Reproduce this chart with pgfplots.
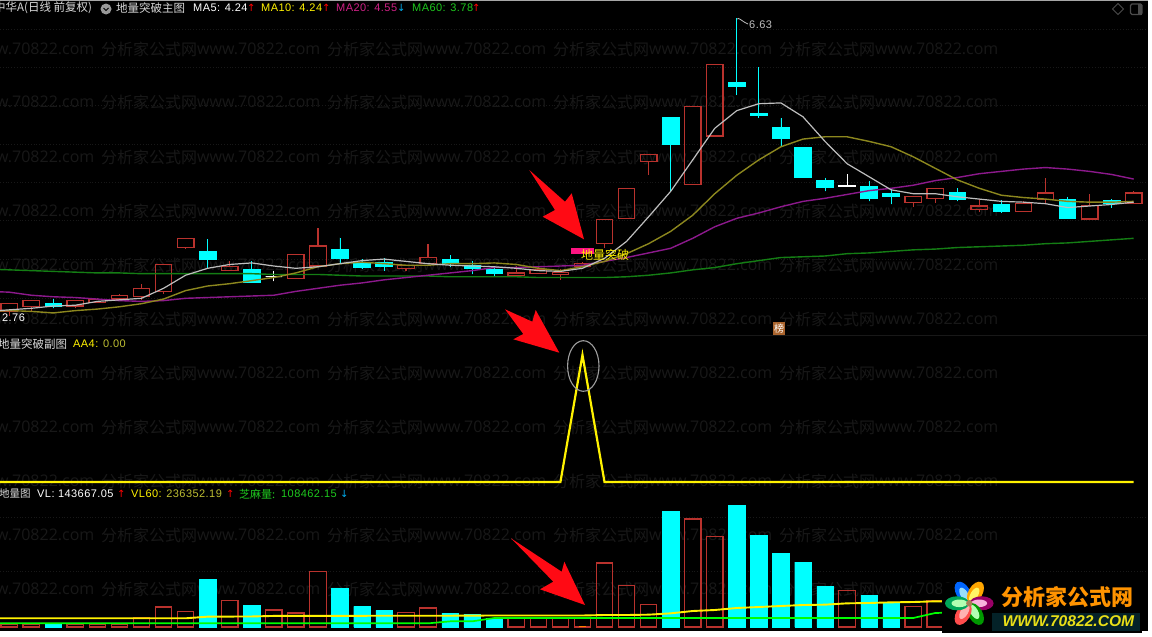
\documentclass[border=0pt]{standalone}
\usepackage{fontspec}
\usepackage{pgfplots}
\usepackage{pgfplotstable}
\pgfplotsset{compat=1.18}
\setmainfont{Liberation Sans}
\newfontfamily\cjk{Noto Sans CJK SC}
\newfontfamily\sym{DejaVu Sans}
\newfontfamily\wm{Open Sans}
\newfontfamily\hd[LetterSpace=4]{Liberation Sans}

\definecolor{candlered}{RGB}{185,50,45}
\definecolor{candlecyan}{RGB}{0,255,255}
\definecolor{ma5}{RGB}{190,190,190}
\definecolor{ma10}{RGB}{140,135,30}
\definecolor{ma20}{RGB}{140,25,140}
\definecolor{ma60}{RGB}{20,125,20}
\definecolor{faint}{RGB}{24,24,24}
\definecolor{hotpink}{RGB}{255,20,130}
\definecolor{arrowred}{RGB}{255,10,20}
\definecolor{dimyellow}{RGB}{190,190,50}
\definecolor{greentxt}{RGB}{30,200,30}
\definecolor{badge}{RGB}{170,100,45}
\definecolor{logobg}{RGB}{4,34,40}

% candle: position, low, body bottom, body top, high
\newcommand{\candle}[6]{%
  \pgfmathsetmacro\xl{#2-0.375}\pgfmathsetmacro\xr{#2+0.375}%
  \addplot[#1] coordinates {(#2,#3) (#2,#4)};
  \addplot[#1] coordinates {(#2,#5) (#2,#6)};
  \addplot[#1] coordinates {(\xl,#4) (\xr,#4) (\xr,#5) (\xl,#5) (\xl,#4)} --cycle;
}
\newcommand{\up}{\candle{candlered,line width=1.3pt}}
\newcommand{\dn}{\candle{candlecyan,fill=candlecyan,line width=0.8pt}}
\newcommand{\doji}{\candle{white,fill=white,line width=1pt}}

\pgfplotstableread{
i ma5 ma10 ma20 ma60
-1 2.82 2.82 3.08 3.37
0 2.84 2.83 3.07 3.36
1 2.86 2.82 3.03 3.35
2 2.89 2.80 3.01 3.34
3 2.90 2.83 3.00 3.33
4 2.95 2.85 2.98 3.32
5 2.97 2.88 2.96 3.32
6 2.99 2.92 2.95 3.31
7 3.12 2.98 2.96 3.31
8 3.29 3.09 2.99 3.31
9 3.38 3.15 3.00 3.31
10 3.43 3.18 3.01 3.31
11 3.45 3.22 3.02 3.31
12 3.41 3.26 3.03 3.30
13 3.38 3.32 3.08 3.30
14 3.40 3.40 3.12 3.30
15 3.44 3.44 3.16 3.29
16 3.48 3.46 3.19 3.28
17 3.50 3.44 3.23 3.28
18 3.47 3.42 3.26 3.28
19 3.44 3.42 3.29 3.28
20 3.42 3.44 3.32 3.27
21 3.41 3.44 3.35 3.27
22 3.40 3.45 3.39 3.27
23 3.38 3.43 3.39 3.27
24 3.35 3.38 3.40 3.26
25 3.34 3.35 3.41 3.26
26 3.38 3.40 3.42 3.26
27 3.51 3.47 3.47 3.26
28 3.73 3.57 3.52 3.27
29 4.05 3.70 3.58 3.29
30 4.38 3.86 3.64 3.32
31 4.79 4.07 3.77 3.36
32 5.20 4.35 3.92 3.39
33 5.43 4.59 4.03 3.44
34 5.52 4.79 4.10 3.48
35 5.53 4.96 4.18 3.52
36 5.35 5.06 4.25 3.53
37 5.03 5.09 4.29 3.54
38 4.74 5.09 4.34 3.57
39 4.57 5.03 4.39 3.58
40 4.40 4.96 4.42 3.60
41 4.35 4.83 4.46 3.62
42 4.35 4.68 4.52 3.63
43 4.31 4.53 4.56 3.65
44 4.28 4.42 4.61 3.66
45 4.25 4.33 4.64 3.67
46 4.24 4.30 4.67 3.68
47 4.22 4.28 4.69 3.70
48 4.17 4.25 4.67 3.71
49 4.19 4.24 4.64 3.73
50 4.21 4.24 4.60 3.75
51 4.24 4.25 4.54 3.77
}\mas

\pgfplotstableread{
i vl60 zm
-1 81000 34000
8 81000 34000
9 96100 34000
11 98000 34000
12 103000 34000
19 105000 34000
20 105000 52700
21 106000 52700
22 107000 83700
26 107000 83700
27 111600 83700
28 111600 83700
29 114700 83700
30 127100 83700
31 148800 83700
32 158100 83700
33 176700 83700
34 186000 83700
35 195300 83700
36 204600 83700
37 207700 83700
38 220100 83700
39 223200 83700
40 229400 83700
41 232500 83700
42 238700 130200
43 238700 136400
}\vols

\pgfplotsset{panel/.style={
  scale only axis,width=1152pt,anchor=south west,
  xmin=-0.417,xmax=51.83,hide axis,clip=true}}

\begin{document}
\begin{tikzpicture}
\path[use as bounding box] (0pt,0pt) rectangle (1152pt,-637pt);
\begin{scope}[x=1pt,y=-1pt]
  \fill[white] (0,0) rectangle (1152,637);
  \fill[black] (0,1) rectangle (1147.5,631);
  \draw[gray!70,line width=0.8pt] (0,0.6) -- (1147.5,0.6);
  % dotted rules
  \foreach \y in {29,67,105,144,182,220,259,298,517,571}
    \draw[faint,line width=0.8pt,dotted] (0,\y) -- (1146,\y);
  \draw[faint,line width=0.8pt] (0,335.5) -- (1147,335.5);
  % watermark
  \foreach \y in {49,102,157,211,265,319,373,427,481,535,589}{
    \foreach \x in {-29,197,423,649,875}
      \node[anchor=west,inner sep=0pt,text=faint,font=\wm\fontsize{16}{16}\selectfont] at (\x,\y) {www.70822.com};
    \foreach \x in {101,327,553,779}
      \node[anchor=west,inner sep=0pt,text=faint,font=\cjk\fontsize{16}{16}\selectfont] at (\x,\y) {分析家公式网};
  }
\end{scope}

% price panel
\begin{axis}[panel,at={(0pt,-335pt)},height=335pt,ymin=2.513,ymax=6.868]
\up{0}{2.76}{2.82}{2.92}{2.92}
\up{1}{2.83}{2.88}{2.96}{2.96}
\dn{2}{2.86}{2.89}{2.92}{2.98}
\up{3}{2.86}{2.89}{2.96}{2.96}
\up{4}{2.94}{2.94}{2.97}{2.99}
\up{5}{2.98}{2.98}{3.03}{3.05}
\up{6}{2.97}{3.01}{3.12}{3.18}
\up{7}{3.05}{3.08}{3.43}{3.43}
\up{8}{3.63}{3.65}{3.77}{3.77}
\dn{9}{3.39}{3.49}{3.60}{3.76}
\up{10}{3.35}{3.35}{3.40}{3.48}
\dn{11}{3.20}{3.20}{3.36}{3.47}
\doji{12}{3.21}{3.27}{3.27}{3.35}
\up{13}{3.25}{3.25}{3.56}{3.56}
\up{14}{3.41}{3.41}{3.67}{3.91}
\dn{15}{3.44}{3.51}{3.63}{3.78}
\dn{16}{3.37}{3.39}{3.46}{3.50}
\dn{17}{3.35}{3.41}{3.46}{3.51}
\up{18}{3.34}{3.38}{3.42}{3.42}
\up{19}{3.44}{3.44}{3.52}{3.70}
\dn{20}{3.40}{3.44}{3.50}{3.55}
\dn{21}{3.30}{3.38}{3.42}{3.48}
\dn{22}{3.27}{3.31}{3.37}{3.40}
\up{23}{3.29}{3.29}{3.32}{3.41}
\up{24}{3.31}{3.31}{3.36}{3.41}
\up{25}{3.23}{3.30}{3.33}{3.37}
\up{26}{3.40}{3.41}{3.44}{3.46}
\up{27}{3.64}{3.70}{4.01}{4.01}
\up{28}{4.03}{4.03}{4.42}{4.42}
\up{29}{4.59}{4.77}{4.86}{4.86}
\dn{30}{4.38}{4.99}{5.34}{5.34}
\up{31}{4.47}{4.47}{5.48}{5.48}
\up{32}{5.10}{5.10}{6.03}{6.03}
\dn{33}{5.63}{5.74}{5.80}{6.63}
\dn{34}{5.34}{5.37}{5.39}{6.00}
\dn{35}{4.97}{5.07}{5.21}{5.33}
\dn{36}{4.56}{4.56}{4.95}{4.95}
\dn{37}{4.38}{4.43}{4.52}{4.56}
\doji{38}{4.45}{4.45}{4.46}{4.60}
\dn{39}{4.25}{4.29}{4.45}{4.51}
\dn{40}{4.21}{4.32}{4.35}{4.42}
\up{41}{4.18}{4.24}{4.31}{4.31}
\up{42}{4.23}{4.29}{4.42}{4.42}
\dn{43}{4.25}{4.28}{4.37}{4.42}
\up{44}{4.11}{4.14}{4.19}{4.28}
\dn{45}{4.10}{4.12}{4.21}{4.27}
\up{46}{4.12}{4.12}{4.22}{4.25}
\up{47}{4.23}{4.27}{4.36}{4.55}
\dn{48}{4.03}{4.03}{4.28}{4.31}
\up{49}{4.02}{4.02}{4.20}{4.34}
\dn{50}{4.17}{4.22}{4.26}{4.28}
\up{51}{4.22}{4.22}{4.36}{4.38}
\addplot[ma60,line width=1.4pt] table[x=i,y=ma60] {\mas};
\addplot[ma20,line width=1.4pt] table[x=i,y=ma20] {\mas};
\addplot[ma10,line width=1.4pt] table[x=i,y=ma10] {\mas};
\addplot[ma5,line width=1.2pt] table[x=i,y=ma5] {\mas};
\addplot[hotpink,line width=6pt] coordinates {(25.48,3.61) (26.52,3.61)};
\end{axis}

% AA4 panel
\begin{axis}[panel,at={(0pt,-487pt)},height=152pt,ymin=-0.0394,ymax=1.157]
\addplot[yellow,line width=2.2pt,line join=miter] coordinates {(-1,0) (25,0) (26,1) (27,0) (51,0)};
\end{axis}

% volume panel
\begin{axis}[panel,at={(0pt,-637pt)},height=150pt,ymin=-93000,ymax=1302000]
\addplot[ybar,bar shift=0pt,bar width=16.5pt,draw=candlered,line width=1.2pt,fill=none] coordinates {
(0,27900) (1,27900) (3,27900) (4,27900) (5,27900) (6,83700) (7,186000) (8,145700)
(10,248000) (12,158100) (13,130200) (14,517700) (18,136400) (19,176700)
(23,85000) (24,85000) (25,85000) (26,85000) (27,595200) (28,387500) (29,210800)
(31,1004400) (32,843200) (38,341000) (41,192200) (42,248000)};
\addplot[ybar,bar shift=0pt,bar width=16.5pt,draw=candlecyan,fill=candlecyan] coordinates {
(2,34100) (9,446400) (11,204600) (15,362700) (16,192200) (17,155000)
(20,130200) (21,120900) (22,83700) (30,1078800) (33,1134600) (34,855600)
(35,688200) (36,604500) (37,378200) (39,294500) (40,217000)};
\addplot[orange,line width=1.2pt] coordinates {(25.85,4000) (26.15,4000)};
\addplot[yellow,line width=1.9pt] table[x=i,y=vl60] {\vols};
\addplot[green,line width=1.7pt] table[x=i,y=zm] {\vols};
\end{axis}

\begin{scope}[x=1pt,y=-1pt]
  % red arrows
  \fill[arrowred] (529.3,170) -- (565,201.7) -- (571.7,193.3) -- (584,239.3) -- (542.7,216.7) -- (555,210) -- cycle;
  \fill[arrowred] (505,309.3) -- (532.3,321.7) -- (535.7,310) -- (559.3,352.7) -- (513.3,339.3) -- (523.3,334) -- cycle;
  \fill[arrowred] (511,538.3) -- (561.7,571.7) -- (564.3,561.7) -- (585,605) -- (540,589.3) -- (553.3,581.7) -- cycle;
  % circled peak
  \draw[gray!75!white,line width=1.1pt] (583.3,366) ellipse (15.7 and 25.3);
  % labels on the chart
  \node[anchor=west,inner sep=0pt,text=yellow,font=\cjk\fontsize{12}{12}\selectfont] at (581,255) {地量突破};
  \node[anchor=west,inner sep=0pt,text=white,font=\hd\fontsize{11}{11}\selectfont] at (2,317.5) {2.76};
  \draw[ma5,line width=0.8pt] (737,19) .. controls (739,17) and (741,21) .. (748,24);
  \node[anchor=west,inner sep=0pt,text=ma5,font=\hd\fontsize{11}{11}\selectfont] at (749,25) {6.63};
  \fill[badge] (773,322) rectangle (785,335);
  \node[inner sep=0pt,text=white,font=\cjk\fontsize{10}{10}\selectfont] at (779,328.5) {榜};
  % header rows
  \node[anchor=west,inner sep=0pt,text=white!85!black,font=\cjk\fontsize{11.5}{12}\selectfont] at (-6,8) {中华A(日线 前复权)};
  \fill[gray!80] (106,9) circle (5.5);
  \draw[black,line width=0.9pt] (103.5,8) -- (106,10.5) -- (108.5,8);
  \node[anchor=west,inner sep=0pt,text=white!85!black,font=\cjk\fontsize{11.5}{12}\selectfont] at (116,8) {地量突破主图};
  \node[anchor=west,inner sep=0pt,text=white,font=\hd\fontsize{11}{11}\selectfont] at (193,8) {MA5: 4.24};
  \node[anchor=west,inner sep=0pt,text=red,font=\sym\fontsize{10}{10}\selectfont] at (247,8) {↑};
  \node[anchor=west,inner sep=0pt,text=yellow,font=\hd\fontsize{11}{11}\selectfont] at (261,8) {MA10: 4.24};
  \node[anchor=west,inner sep=0pt,text=red,font=\sym\fontsize{10}{10}\selectfont] at (322,8) {↑};
  \node[anchor=west,inner sep=0pt,text=magenta!85!black,font=\hd\fontsize{11}{11}\selectfont] at (336,8) {MA20: 4.55};
  \node[anchor=west,inner sep=0pt,text=cyan,font=\sym\fontsize{10}{10}\selectfont] at (397,8) {↓};
  \node[anchor=west,inner sep=0pt,text=greentxt,font=\hd\fontsize{11}{11}\selectfont] at (412,8) {MA60: 3.78};
  \node[anchor=west,inner sep=0pt,text=red,font=\sym\fontsize{10}{10}\selectfont] at (472,8) {↑};
  \node[anchor=west,inner sep=0pt,text=white!85!black,font=\cjk\fontsize{11.5}{12}\selectfont] at (-2,344) {地量突破副图};
  \node[anchor=west,inner sep=0pt,text=dimyellow,font=\hd\fontsize{11}{11}\selectfont] at (73,344) {\textcolor{yellow}{AA4:} 0.00};
  \node[anchor=west,inner sep=0pt,text=white!85!black,font=\cjk\fontsize{10.5}{12}\selectfont] at (-1,494) {地量图};
  \node[anchor=west,inner sep=0pt,text=white,font=\hd\fontsize{11}{11}\selectfont] at (37,494) {VL: 143667.05};
  \node[anchor=west,inner sep=0pt,text=red,font=\sym\fontsize{10}{10}\selectfont] at (117,494) {↑};
  \node[anchor=west,inner sep=0pt,text=dimyellow,font=\hd\fontsize{11}{11}\selectfont] at (131,494) {\textcolor{yellow}{VL60:} 236352.19};
  \node[anchor=west,inner sep=0pt,text=red,font=\sym\fontsize{10}{10}\selectfont] at (226,494) {↑};
  \node[anchor=west,inner sep=0pt,text=greentxt,font=\cjk\fontsize{11}{12}\selectfont] at (239,494) {芝麻量:};
  \node[anchor=west,inner sep=0pt,text=greentxt,font=\hd\fontsize{11}{11}\selectfont] at (281,494) {108462.15};
  \node[anchor=west,inner sep=0pt,text=cyan,font=\sym\fontsize{10}{10}\selectfont] at (340,494) {↓};
  % window icons
  \draw[gray!60!black,line width=0.9pt] (1118,3.5) -- (1123.5,9) -- (1118,14.5) -- (1112.5,9) -- cycle;
  \draw[gray!60!black,line width=1.1pt,rounded corners=1.5pt] (1130.5,4) rectangle (1142,14.5);
  \fill[gray!60!black] (1138,4) rectangle (1142,14.5);
  % logo
  \fill[black] (942,583) rectangle (1142,633);
  \fill[logobg] (992,613) rectangle (1140,631);
  \foreach \a/\c/\d in {30/blue!60!cyan/white!60!cyan,-30/orange!70!yellow/yellow!60!white,-90/violet!80!red/white!70!magenta,-150/green!60!black/white!70!green,150/red!70!white/white!70!red,90/teal!70!green/white!70!green}{
    \fill[\c,rotate around={\a:(969.3,603.3)}] (969.3,591) ellipse (7 and 12);
    \fill[\d,rotate around={\a:(969.3,603.3)}] (969.3,593.5) ellipse (3.8 and 8);
  }
  \fill[gray!70!orange] (969.3,603.3) circle (3.2);
  \node[anchor=west,inner sep=0pt,text=orange!85!yellow,font=\cjk\bfseries\fontsize{22}{22}\selectfont] at (1001.5,597) {分析家公式网};
  \node[anchor=west,inner sep=0pt,text=yellow!90!black,font=\bfseries\itshape\fontsize{15.6}{16}\selectfont] at (1002.5,621) {WWW.70822.COM};
\end{scope}
\end{tikzpicture}
\end{document}
